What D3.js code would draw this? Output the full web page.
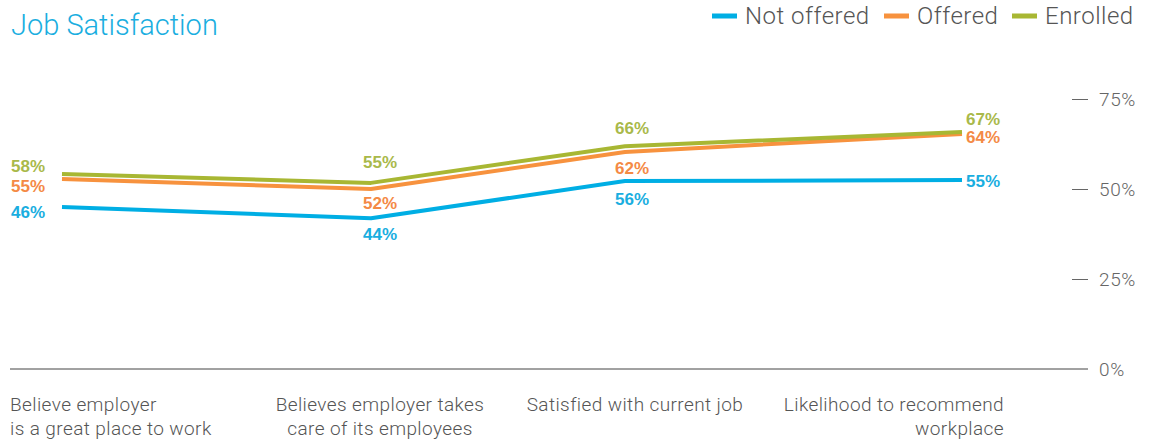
<!DOCTYPE html>
<html>
<head>
<meta charset="utf-8">
<script src="https://cdn.jsdelivr.net/npm/d3@7"></script>
<style>
  body { margin: 0; background: #fff; }
  svg { display: block; font-family: Roboto, "Liberation Sans", sans-serif; }
</style>
</head>
<body>
<svg id="chart" width="1154" height="442"></svg>
<script>
// chart data
const categories = [
  "Believe employer|is a great place to work",
  "Believes employer takes|care of its employees",
  "Satisfied with current job",
  "Likelihood to recommend|workplace"
];
const seriesNames = ["Not offered", "Offered", "Enrolled"];
const notOffered = [45, 41.9, 52.2, 52.5];
const offered = [52.8, 50, 60.3, 65.3];
const enrolled = [54.2, 51.7, 61.9, 65.8];
// value labels printed next to the points
const notOfferedLabels = ["46%", "44%", "56%", "55%"];
const offeredLabels = ["55%", "52%", "62%", "64%"];
const enrolledLabels = ["58%", "55%", "66%", "67%"];
const yTicks = [0, 25, 50, 75];

const colors = ["#00aee4", "#f7923e", "#a8b733"];
const labelColors = ["#1aaee0", "#f48a45", "#a9b94a"];

const series = [
  { name: seriesNames[0], values: notOffered, labels: notOfferedLabels },
  { name: seriesNames[1], values: offered, labels: offeredLabels },
  { name: seriesNames[2], values: enrolled, labels: enrolledLabels }
];

const svg = d3.select("#chart");

// scales
const x = d3.scaleOrdinal().domain(categories).range([62, 371, 625, 962]);
const y = d3.scaleLinear().domain([0, 75]).range([369, 99]);

// title
svg.append("text")
  .attr("x", 11).attr("y", 35)
  .attr("fill", "#1aaee0")
  .attr("font-size", 29)
  .attr("font-weight", 300)
  .text("Job Satisfaction");

// legend
const legendX = [712, 884, 1012];
const legend = svg.selectAll(".legend")
  .data(series)
  .join("g")
  .attr("class", "legend")
  .attr("transform", (d, i) => `translate(${legendX[i]},16)`);
legend.append("rect")
  .attr("x", 0).attr("y", -2.5)
  .attr("width", 25).attr("height", 5)
  .attr("fill", (d, i) => colors[i]);
legend.append("text")
  .attr("x", 33).attr("y", 8)
  .attr("fill", "#555")
  .attr("font-size", 24)
  .attr("font-weight", 300)
  .attr("letter-spacing", 0.5)
  .text(d => d.name);

// baseline
svg.append("line")
  .attr("x1", 10).attr("x2", 1088)
  .attr("y1", y(0)).attr("y2", y(0))
  .attr("stroke", "#444").attr("stroke-width", 1);

// right axis
const axis = svg.append("g")
  .attr("transform", "translate(1088,0)")
  .call(d3.axisLeft(y).tickValues(yTicks).tickSize(16).tickFormat(d => d + "%"));
axis.select(".domain").remove();
axis.selectAll(".tick line").attr("stroke", "#666").attr("stroke-width", 1);
axis.selectAll(".tick").filter(d => d === 0).select("line").remove();
axis.selectAll(".tick text")
  .attr("x", 11)
  .attr("text-anchor", "start")
  .attr("fill", "#666")
  .attr("font-size", 19)
  .attr("font-weight", 300)
  .attr("letter-spacing", 0.6)
  .attr("font-family", "Roboto, sans-serif");

// category labels
const catAnchor = ["start", "middle", "middle", "end"];
const catX = [10, 380, 635, 1004];
categories.forEach((c, i) => {
  const t = svg.append("text")
    .attr("y", 411)
    .attr("fill", "#555")
    .attr("font-size", 19)
    .attr("font-weight", 300)
    .attr("letter-spacing", 0.4)
    .attr("text-anchor", catAnchor[i]);
  c.split("|").forEach((line, j) => {
    t.append("tspan").attr("x", catX[i]).attr("dy", j === 0 ? 0 : 24).text(line);
  });
});

// lines
const line = d3.line()
  .x((d, i) => x(categories[i]))
  .y(d => y(d));

svg.selectAll(".series")
  .data(series)
  .join("path")
  .attr("class", "series")
  .attr("d", d => line(d.values))
  .attr("fill", "none")
  .attr("stroke", (d, i) => colors[i])
  .attr("stroke-width", 4)
  .attr("stroke-linejoin", "round");

// value labels: offsets per series (rows) and point (columns)
const labelDx = [-17, 9, 7, 4];
const labelAnchor = ["end", "middle", "middle", "start"];
const labelDy = [
  [5, 16, 18, 1],
  [7, 14, 16, 3],
  [-8, -21, -18, -13]
];
series.forEach((s, si) => {
  svg.selectAll(".lbl" + si)
    .data(s.values)
    .join("text")
    .attr("x", (d, i) => x(categories[i]) + labelDx[i])
    .attr("y", (d, i) => y(d) + labelDy[si][i])
    .attr("dy", "0.35em")
    .attr("text-anchor", (d, i) => labelAnchor[i])
    .attr("fill", labelColors[si])
    .attr("font-size", 17)
    .attr("font-weight", 700)
    .attr("font-family", "'Liberation Sans', Arial, sans-serif")
    .text((d, i) => s.labels[i]);
});
</script>
</body>
</html>
